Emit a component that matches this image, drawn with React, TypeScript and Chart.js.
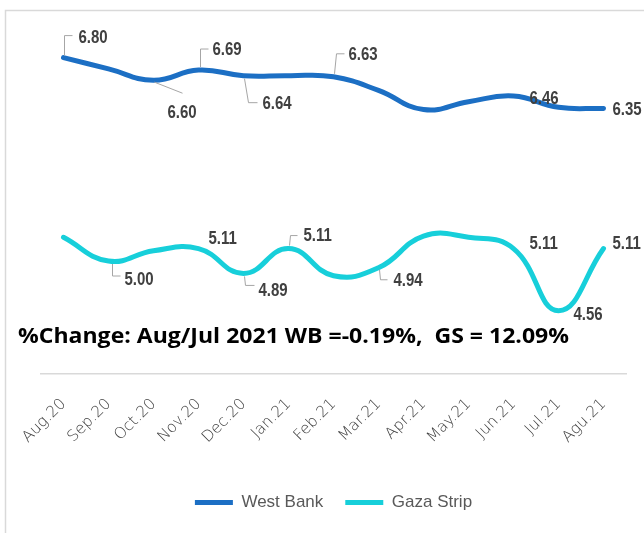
import React, { useEffect, useRef } from 'react';
import { Chart, registerables } from 'chart.js';

Chart.register(...registerables);

const categories = ['Aug.20', 'Sep.20', 'Oct.20', 'Nov.20', 'Dec.20', 'Jan.21', 'Feb.21', 'Mar.21', 'Apr.21', 'May.21', 'Jun.21', 'Jul.21', 'Agu.21'];
const westBank = [6.80, 6.70, 6.60, 6.69, 6.64, 6.64, 6.63, 6.51, 6.34, 6.41, 6.46, 6.36, 6.35];
const gazaStrip = [5.21, 5.00, 5.09, 5.11, 4.89, 5.11, 4.87, 4.94, 5.22, 5.21, 5.11, 4.56, 5.11];
const changeText = '%Change: Aug/Jul 2021 WB =-0.19%,  GS = 12.09%';

const WB_COLOR = '#1C6FC4';
const GS_COLOR = '#17CFDA';

type LabelSpec = { i: number; dx: number; dy: number; leader?: number[][] };

// label placement (style only; values come from the data arrays)
const wbLabelSpecs: LabelSpec[] = [
  { i: 0, dx: 15, dy: -21, leader: [[1, -2], [1, -22], [9, -22]] },
  { i: 2, dx: 14, dy: 31, leader: [[1, 2], [29, 13]] },
  { i: 3, dx: 14, dy: -22, leader: [[2, -3], [2, -21], [10, -21]] },
  { i: 4, dx: 19, dy: 27, leader: [[1, 3], [5, 27], [14, 27]] },
  { i: 6, dx: 15, dy: -24, leader: [[1, -3], [3, -23], [11, -23]] },
  { i: 10, dx: 16, dy: 1 },
  { i: 12, dx: 9, dy: 0 },
];
const gsLabelSpecs: LabelSpec[] = [
  { i: 1, dx: 16, dy: 17, leader: [[4, 3], [4, 15], [12, 15]] },
  { i: 3, dx: 10, dy: -11 },
  { i: 4, dx: 15, dy: 16, leader: [[1, 3], [2, 12], [11, 12]] },
  { i: 5, dx: 15, dy: -14, leader: [[1, -3], [2, -13], [9, -13]] },
  { i: 7, dx: 15, dy: 11, leader: [[1, 2], [2, 12], [9, 12]] },
  { i: 10, dx: 16, dy: -6 },
  { i: 11, dx: 15, dy: 2 },
  { i: 12, dx: 9, dy: -6 },
];

const LABEL_FONT = "bold 19px 'Liberation Sans', Arial, sans-serif";
const LABEL_SQUEEZE = 0.79;

const framePlugin = {
  id: 'frame',
  beforeDraw(chart: any) {
    const ctx = chart.ctx;
    ctx.save();
    ctx.fillStyle = '#ffffff';
    ctx.fillRect(0, 0, chart.width, chart.height);
    ctx.strokeStyle = '#d9d9d9';
    ctx.lineWidth = 1.5;
    ctx.beginPath();
    ctx.moveTo(5.5, chart.height);
    ctx.lineTo(5.5, 10.5);
    ctx.lineTo(chart.width, 10.5);
    ctx.stroke();
    ctx.restore();
  },
};

const labelsPlugin = {
  id: 'valueLabels',
  afterDatasetsDraw(chart: any) {
    const ctx = chart.ctx;
    const specsList = [wbLabelSpecs, gsLabelSpecs];
    specsList.forEach((specs, di) => {
      const meta = chart.getDatasetMeta(di);
      const values = chart.data.datasets[di].data as number[];
      specs.forEach((s) => {
        const el = meta.data[s.i];
        if (!el) return;
        const x = el.x;
        const y = el.y;
        ctx.save();
        if (s.leader) {
          ctx.strokeStyle = '#a6a6a6';
          ctx.lineWidth = 1;
          ctx.beginPath();
          s.leader.forEach((p, k) => {
            if (k === 0) ctx.moveTo(x + p[0], y + p[1]);
            else ctx.lineTo(x + p[0], y + p[1]);
          });
          ctx.stroke();
        }
        ctx.font = LABEL_FONT;
        ctx.fillStyle = '#404040';
        ctx.textAlign = 'left';
        ctx.textBaseline = 'alphabetic';
        ctx.translate(x + s.dx, y + s.dy + 6.8);
        ctx.scale(LABEL_SQUEEZE, 1);
        ctx.fillText(values[s.i].toFixed(2), 0, 0);
        ctx.restore();
      });
    });
    ctx.save();
    ctx.font = "bold 22px 'Open Sans', sans-serif";
    ctx.fillStyle = '#000000';
    ctx.textAlign = 'left';
    ctx.textBaseline = 'alphabetic';
    const w = ctx.measureText(changeText).width;
    const target = 551;
    ctx.translate(18, 343.3);
    ctx.scale(target / w, 1);
    ctx.fillText(changeText, 0, 0);
    ctx.restore();
  },
};

export default function App() {
  const ref = useRef<HTMLCanvasElement>(null);
  useEffect(() => {
    if (!ref.current) return;
    const chart = new Chart(ref.current, {
      type: 'line',
      data: {
        labels: categories,
        datasets: [
          {
            label: 'West Bank',
            data: westBank,
            borderColor: WB_COLOR,
            backgroundColor: WB_COLOR,
            borderWidth: 5,
            pointRadius: 0,
            pointHoverRadius: 0,
            tension: 0.45,
            fill: false,
            borderCapStyle: 'round',
          },
          {
            label: 'Gaza Strip',
            data: gazaStrip,
            borderColor: GS_COLOR,
            backgroundColor: GS_COLOR,
            borderWidth: 5,
            pointRadius: 0,
            pointHoverRadius: 0,
            tension: 0.45,
            fill: false,
            borderCapStyle: 'round',
          },
        ],
      },
      options: {
        animation: false,
        responsive: true,
        maintainAspectRatio: false,
        layout: { padding: { left: 41, right: 18, top: 35, bottom: 12 } },
        scales: {
          x: {
            offset: true,
            grid: { display: false, drawTicks: false },
            border: { display: true, color: '#d9d9d9', width: 1.5 },
            ticks: {
              color: '#3f3f3f',
              font: { family: "'DejaVu Sans', sans-serif", size: 15.5, weight: '200' as any },
              minRotation: 45,
              maxRotation: 45,
              padding: 21,
              autoSkip: false,
            },
            afterFit: (s: any) => {
              s.height = 98;
              s.paddingLeft = 0;
              s.paddingRight = 0;
            },
          },
          y: { display: false, min: 4, max: 7 },
        },
        plugins: {
          legend: {
            position: 'bottom',
            labels: {
              color: '#595959',
              font: { family: "'Liberation Sans', sans-serif", size: 17 },
              boxWidth: 38,
              boxHeight: 5,
              padding: 22,
              generateLabels: (c: any) =>
                c.data.datasets.map((d: any, i: number) => ({
                  text: d.label,
                  fillStyle: d.borderColor,
                  strokeStyle: d.borderColor,
                  lineWidth: 0,
                  hidden: false,
                  datasetIndex: i,
                  fontColor: '#595959',
                })),
            },
          },
          tooltip: { enabled: false },
        },
      },
      plugins: [framePlugin, labelsPlugin],
    });
    return () => chart.destroy();
  }, []);
  return (
    <div style={{ position: 'absolute', left: 0, top: 0, width: 644, height: 533, background: '#fff' }}>
      <canvas ref={ref} />
    </div>
  );
}
